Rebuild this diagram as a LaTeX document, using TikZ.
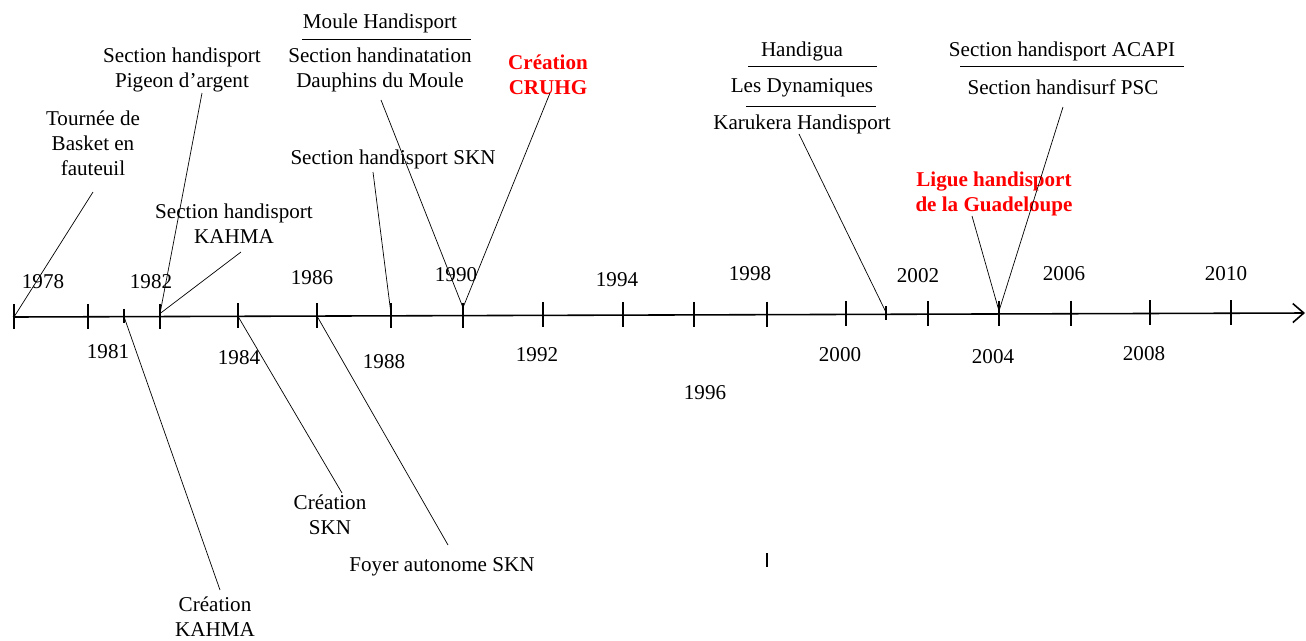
\documentclass[tikz,border=0pt]{standalone}
\usepackage{fontspec}
\setmainfont{Liberation Serif}
\usetikzlibrary{arrows.meta, calc}
\tikzset{
    evt/.style={
        align=center, inner sep=1pt, font=\fontsize{12}{14.2}\selectfont
    },
    evtred/.style={
        evt, text=red, font=\fontsize{12}{14.2}\selectfont\bfseries
    },
    year/.style={
        inner sep=1pt, font=\fontsize{12}{14.2}\selectfont
    },
    axis/.style={-{Straight Barb[length=2.2mm, width=3.8mm]}, line width=0.9pt},
    tickmark/.style={line width=0.7pt},
    leader/.style={line width=0.4pt},
    sep/.style={line width=0.5pt}
}

\begin{document}
\begin{tikzpicture}[x=0.02cm, y=-0.02cm]
\useasboundingbox (0,0) rectangle (1306,640);

% Time axis
\coordinate (axstart) at (13,317);
\coordinate (axend) at (1305,313);
\draw[axis] (axstart) -- (axend);

% Ticks
\foreach \x/\yr in {14/1978, 88/1980, 160/1982, 238/1984, 317/1986, 391/1988,
    463/1990, 543/1992, 623/1994, 694/1996, 767/1998, 846/2000, 928/2002,
    999/2004, 1071/2006, 1150/2008, 1231/2010} {
    \pgfmathsetmacro\ya{317-4*(\x-13)/1291}
    \coordinate (t\yr) at (\x,\ya);
    \draw[tickmark] (\x,\ya-13) -- (\x,\ya+12);
}
\foreach \x/\yr in {124/1981, 886/2001} {
    \pgfmathsetmacro\ya{317-4*(\x-13)/1291}
    \coordinate (t\yr) at (\x,\ya);
    \draw[tickmark] (\x,\ya-8) -- (\x,\ya+6);
}

% Year labels above
\node[year] (y1978) at (43,282) {1978};
\node[year] (y1982) at (151,282) {1982};
\node[year] (y1986) at (312,278) {1986};
\node[year] (y1990) at (456,275) {1990};
\node[year] (y1994) at (617,280) {1994};
\node[year] (y1998) at (750,274) {1998};
\node[year] (y2002) at (918,276) {2002};
\node[year] (y2006) at (1064,274) {2006};
\node[year] (y2010) at (1226,274) {2010};

% Year labels below
\node[year] (y1981) at (108,352) {1981};
\node[year] (y1984) at (239,358) {1984};
\node[year] (y1988) at (384,362) {1988};
\node[year] (y1992) at (537,355) {1992};
\node[year] (y1996) at (705,393) {1996};
\node[year] (y2000) at (840,355) {2000};
\node[year] (y2004) at (993,357) {2004};
\node[year] (y2008) at (1144,354) {2008};

% Events above the axis
\node[evt] (tournee) at (93,143) {Tourn\'ee de\\Basket en\\fauteuil};
\node[evt] (pigeon) at (182,70) {Section handisport\\Pigeon d'argent};
\node[evt] (kahmasec) at (234,224) {Section handisport\\KAHMA};
\node[evt] (moule) at (380,23) {Moule Handisport};
\node[evt] (dauphins) at (380,70) {Section handinatation\\Dauphins du Moule};
\node[evt] (sknsec) at (393,159) {Section handisport SKN};
\node[evtred] (cruhg) at (548,75) {Création\\CRUHG};
\node[evt] (handigua) at (802,51) {Handigua};
\node[evt] (dynamiques) at (802,88) {Les Dynamiques};
\node[evt] (karukera) at (802,124) {Karukera Handisport};
\node[evt] (acapi) at (1062,51) {Section handisport ACAPI};
\node[evt] (psc) at (1063,87) {Section handisurf PSC};
\node[evtred] (ligue) at (994,194) {Ligue handisport\\de la Guadeloupe};

% Events below the axis
\node[evt] (creakahma) at (215,617) {Création\\KAHMA};
\node[evt] (creaskn) at (330,515) {Création\\SKN};
\node[evt] (foyer) at (442,567) {Foyer autonome SKN};

% Separators
\draw[sep] ($(moule)+(-78,16)$) -- ($(moule)+(91,16)$);
\draw[sep] ($(handigua)+(-54,15)$) -- ($(handigua)+(75,15)$);
\draw[sep] ($(dynamiques)+(-56,18)$) -- ($(dynamiques)+(74,18)$);
\draw[sep] ($(acapi)+(-102,15)$) -- ($(acapi)+(122,15)$);

% Leaders
\draw[leader] ($(tournee)+(0,49)$) -- (t1978);
\draw[leader] ($(pigeon)+(20,23)$) -- ($(t1982)+(0,-3)$);
\draw[leader] ($(kahmasec)+(7,28)$) -- ($(t1982)+(0,-3)$);
\draw[leader] ($(dauphins)+(1,30)$) -- ($(t1990)+(0,-8)$);
\draw[leader] ($(sknsec)+(-20,13)$) -- ($(t1988)+(0,-2)$);
\draw[leader] ($(cruhg)+(2,18)$) -- ($(t1990)+(0,-8)$);
\draw[leader] ($(karukera)+(-3,10)$) -- ($(t2001)+(0,-2)$);
\draw[leader] ($(psc)+(0,20)$) -- ($(t2004)+(0,-3)$);
\draw[leader] ($(ligue)+(-22,22)$) -- ($(t2004)+(0,-3)$);
\draw[leader] ($(creakahma)+(5,-27)$) -- (t1981);
\draw[leader] ($(creaskn)+(12,-22)$) -- (t1984);
\draw[leader] ($(foyer)+(6,-22)$) -- (t1986);

% Stray mark
\coordinate (mark) at (767,553);
\draw[tickmark] (mark) -- ++(0,14);

\end{tikzpicture}
\end{document}
